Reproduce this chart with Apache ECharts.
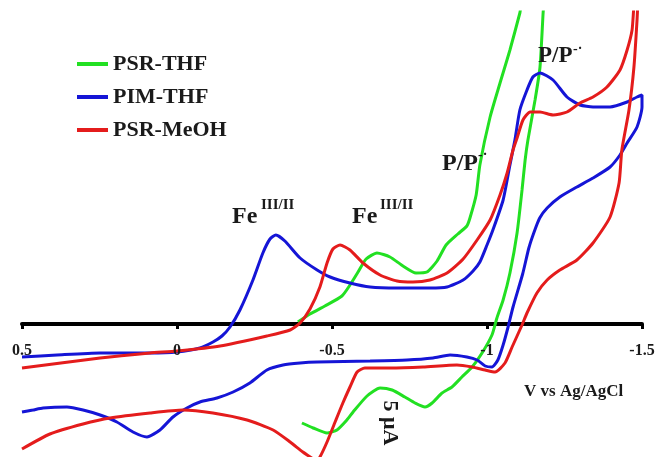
<!DOCTYPE html>
<html>
<head>
<meta charset="utf-8">
<script src="https://cdn.jsdelivr.net/npm/echarts@6/dist/echarts.min.js"></script>
<style>
  html, body { margin: 0; padding: 0; background: #fff; }
  #chart { width: 655px; height: 457px; }
</style>
</head>
<body>
<div id="chart"></div>
<script>
// Cyclic voltammograms: [potential (V vs Ag/AgCl), current (arb. units)] in scan order
const psrThf = [
  [-0.39,0.2],[-0.429,1.0],[-0.477,1.8],[-0.532,2.8],[-0.558,3.9],[-0.584,5.2],[-0.61,6.5],
  [-0.645,7.1],[-0.687,6.7],[-0.729,5.8],[-0.771,5.1],[-0.806,5.2],[-0.839,6.3],[-0.868,7.9],
  [-0.906,9.0],[-0.935,9.8],[-0.945,10.6],[-0.965,12.9],[-0.977,15.9],[-1.01,20.7],[-1.042,24.1],
  [-1.074,27.4],[-1.106,31.1],[-1.116,32.4],[-1.184,32.4],[-1.181,31.1],[-1.171,25.7],[-1.155,22.4],
  [-1.132,18.4],[-1.123,16.4],[-1.113,13.4],[-1.097,9.1],[-1.074,5.1],[-1.052,2.4],[-1.032,0.6],
  [-1.016,-1.1],[-0.984,-2.9],[-0.952,-4.3],[-0.919,-5.3],[-0.887,-6.3],[-0.855,-6.9],[-0.823,-7.9],
  [-0.8,-8.3],[-0.768,-7.9],[-0.735,-7.3],[-0.694,-6.6],[-0.655,-6.4],[-0.613,-7.2],[-0.568,-8.8],
  [-0.548,-9.6],[-0.516,-10.6],[-0.484,-10.9],[-0.439,-10.4],[-0.403,-9.9]
];

const pimThf = [
  [0.5,-3.3],[0.387,-3.1],[0.248,-2.9],[0.087,-2.9],[0,-2.8],[-0.074,-2.4],[-0.116,-1.8],
  [-0.145,-1.2],[-0.171,-0.3],[-0.203,1.4],[-0.245,4.4],[-0.277,7.1],[-0.3,8.5],[-0.319,8.9],
  [-0.348,8.3],[-0.397,6.6],[-0.452,5.4],[-0.494,4.7],[-0.558,4.1],[-0.623,3.7],[-0.71,3.6],
  [-0.816,3.6],[-0.871,3.7],[-0.923,4.4],[-0.955,5.3],[-0.977,6.2],[-1.0,7.9],[-1.019,9.4],
  [-1.052,12.4],[-1.074,15.9],[-1.09,18.4],[-1.106,21.4],[-1.129,23.4],[-1.148,24.7],[-1.171,25.1],
  [-1.213,24.4],[-1.258,22.7],[-1.3,21.9],[-1.342,21.7],[-1.397,21.7],[-1.452,22.2],[-1.484,22.7],
  [-1.5,22.9],[-1.5,21.7],[-1.484,19.7],[-1.452,18.1],[-1.429,16.9],[-1.397,15.7],[-1.342,14.6],
  [-1.29,13.7],[-1.235,12.7],[-1.194,11.6],[-1.17,10.6],[-1.152,9.2],[-1.135,7.6],[-1.115,5.0],
  [-1.084,1.7],[-1.068,-0.3],[-1.052,-2.1],[-1.035,-3.6],[-1.016,-4.3],[-0.994,-4.2],[-0.968,-3.6],
  [-0.935,-3.3],[-0.881,-3.1],[-0.826,-3.4],[-0.742,-3.6],[-0.623,-3.7],[-0.452,-3.8],[-0.397,-3.9],
  [-0.342,-4.1],[-0.29,-4.6],[-0.235,-5.9],[-0.181,-6.8],[-0.129,-7.4],[-0.074,-7.8],[-0.032,-8.4],
  [0.013,-9.3],[0.055,-10.6],[0.097,-11.3],[0.142,-10.8],[0.194,-9.8],[0.248,-9.1],[0.303,-8.6],
  [0.355,-8.3],[0.432,-8.4],[0.465,-8.6],[0.5,-8.8]
];

const psrMeoh = [
  [0.5,-4.4],[0.248,-3.4],[0.087,-2.9],[0,-2.7],[-0.139,-2.2],[-0.29,-1.2],[-0.365,-0.6],
  [-0.397,0.1],[-0.429,1.5],[-0.461,3.7],[-0.484,6.1],[-0.503,7.5],[-0.526,7.9],[-0.558,7.4],
  [-0.6,6.1],[-0.655,4.9],[-0.71,4.3],[-0.761,4.2],[-0.816,4.4],[-0.871,5.1],[-0.923,6.5],
  [-0.968,8.4],[-1.01,10.4],[-1.042,12.9],[-1.065,15.1],[-1.084,17.4],[-1.097,18.6],[-1.116,20.4],
  [-1.139,21.2],[-1.171,21.2],[-1.213,20.9],[-1.258,21.2],[-1.3,22.1],[-1.342,22.7],[-1.387,23.7],
  [-1.429,25.4],[-1.452,27.4],[-1.468,29.4],[-1.477,32.4],[-1.487,32.4],[-1.484,30.4],[-1.474,25.7],
  [-1.458,21.4],[-1.435,17.4],[-1.426,14.1],[-1.397,10.7],[-1.342,8.1],[-1.29,6.4],[-1.235,5.4],
  [-1.194,4.4],[-1.161,3.1],[-1.129,1.1],[-1.113,-0.1],[-1.081,-2.3],[-1.058,-3.9],[-1.026,-4.8],
  [-0.994,-4.6],[-0.952,-4.3],[-0.903,-4.1],[-0.794,-4.3],[-0.687,-4.4],[-0.606,-4.4],[-0.581,-4.8],
  [-0.558,-6.3],[-0.535,-7.9],[-0.51,-9.8],[-0.484,-11.8],[-0.461,-13.3],[-0.448,-13.8],[-0.439,-13.5],
  [-0.406,-12.8],[-0.365,-11.8],[-0.31,-10.6],[-0.226,-9.6],[-0.116,-8.9],[-0.019,-8.6],[0.087,-8.9],
  [0.216,-9.4],[0.303,-10.0],[0.41,-11.0],[0.5,-12.5]
];

const seriesNames = ['PSR-THF', 'PIM-THF', 'PSR-MeOH'];
const seriesColors = ['#22e022', '#1515d6', '#e41c1c'];
const tickValues = [0.5, 0, -0.5, -1, -1.5];
const tickLabels = ['0.5', '0', '-0.5', '-1', '-1.5'];

const SERIF = '"Liberation Serif", "Times New Roman", serif';
const INK = '#1a1a1a';

const chart = echarts.init(document.getElementById('chart'), null, { renderer: 'canvas' });

function label(text, x, y, size, opts) {
  opts = opts || {};
  const el = {
    type: 'text', x: x, y: y, z: 10,
    style: {
      text: text, fill: INK, font: 'bold ' + size + 'px ' + SERIF,
      align: opts.align || 'left', verticalAlign: 'middle'
    }
  };
  if (opts.rotation !== undefined) el.rotation = opts.rotation;
  return el;
}

// Peak assignments, axis title and current scale note
const annotations = [
  label('Fe', 232, 217, 24),
  label('III/II', 261, 205, 15),
  label('Fe', 352, 217, 24),
  label('III/II', 380, 205, 15),
  label('P/P', 442, 164, 24),
  label('-\u00b7', 478, 155, 14),
  label('P/P', 538, 56, 23),
  label('-\u00b7', 573, 49, 14),
  label('V vs Ag/AgCl', 524, 392, 17),
  label('5 \u03bcA', 390, 423, 22, { rotation: -Math.PI / 2, align: 'center' })
];

chart.setOption({
  animation: false,
  backgroundColor: '#fff',
  grid: { left: 22, right: 13, top: 12, bottom: 0, containLabel: false, outerBoundsMode: 'none' },
  legend: {
    orient: 'vertical', left: 72, top: 48, itemGap: 11,
    itemWidth: 31, itemHeight: 4, icon: 'rect',
    data: seriesNames,
    textStyle: { fontFamily: SERIF, fontWeight: 'bold', fontSize: 22, color: INK, lineHeight: 22 }
  },
  xAxis: {
    type: 'value', inverse: true, min: -1.5, max: 0.5, interval: 0.5,
    axisLine: { onZero: true, lineStyle: { color: '#000', width: 4 } },
    axisTick: { show: true, length: 5, lineStyle: { color: '#000', width: 3 } },
    axisLabel: { show: false },
    splitLine: { show: false }
  },
  yAxis: {
    type: 'value', min: -13.3, max: 31.2, show: false,
    splitLine: { show: false }
  },
  series: [psrThf, pimThf, psrMeoh].map((d, k) => ({
    name: seriesNames[k], type: 'line', data: d,
    showSymbol: false, smooth: 0.2, clip: true,
    lineStyle: { color: seriesColors[k], width: 3 },
    itemStyle: { color: seriesColors[k] }
  }))
});

// Tick labels sit under the zero-current axis line, placed through the axis scale
const tickLabelEls = tickValues.map((v, i) => {
  const p = chart.convertToPixel({ gridIndex: 0 }, [v, 0]);
  return {
    type: 'text', x: p[0], y: p[1] + 27, z: 10,
    style: {
      text: tickLabels[i], fill: INK, font: 'bold 16px ' + SERIF,
      align: 'center', verticalAlign: 'middle'
    }
  };
});

chart.setOption({ graphic: annotations.concat(tickLabelEls) });
</script>
</body>
</html>
